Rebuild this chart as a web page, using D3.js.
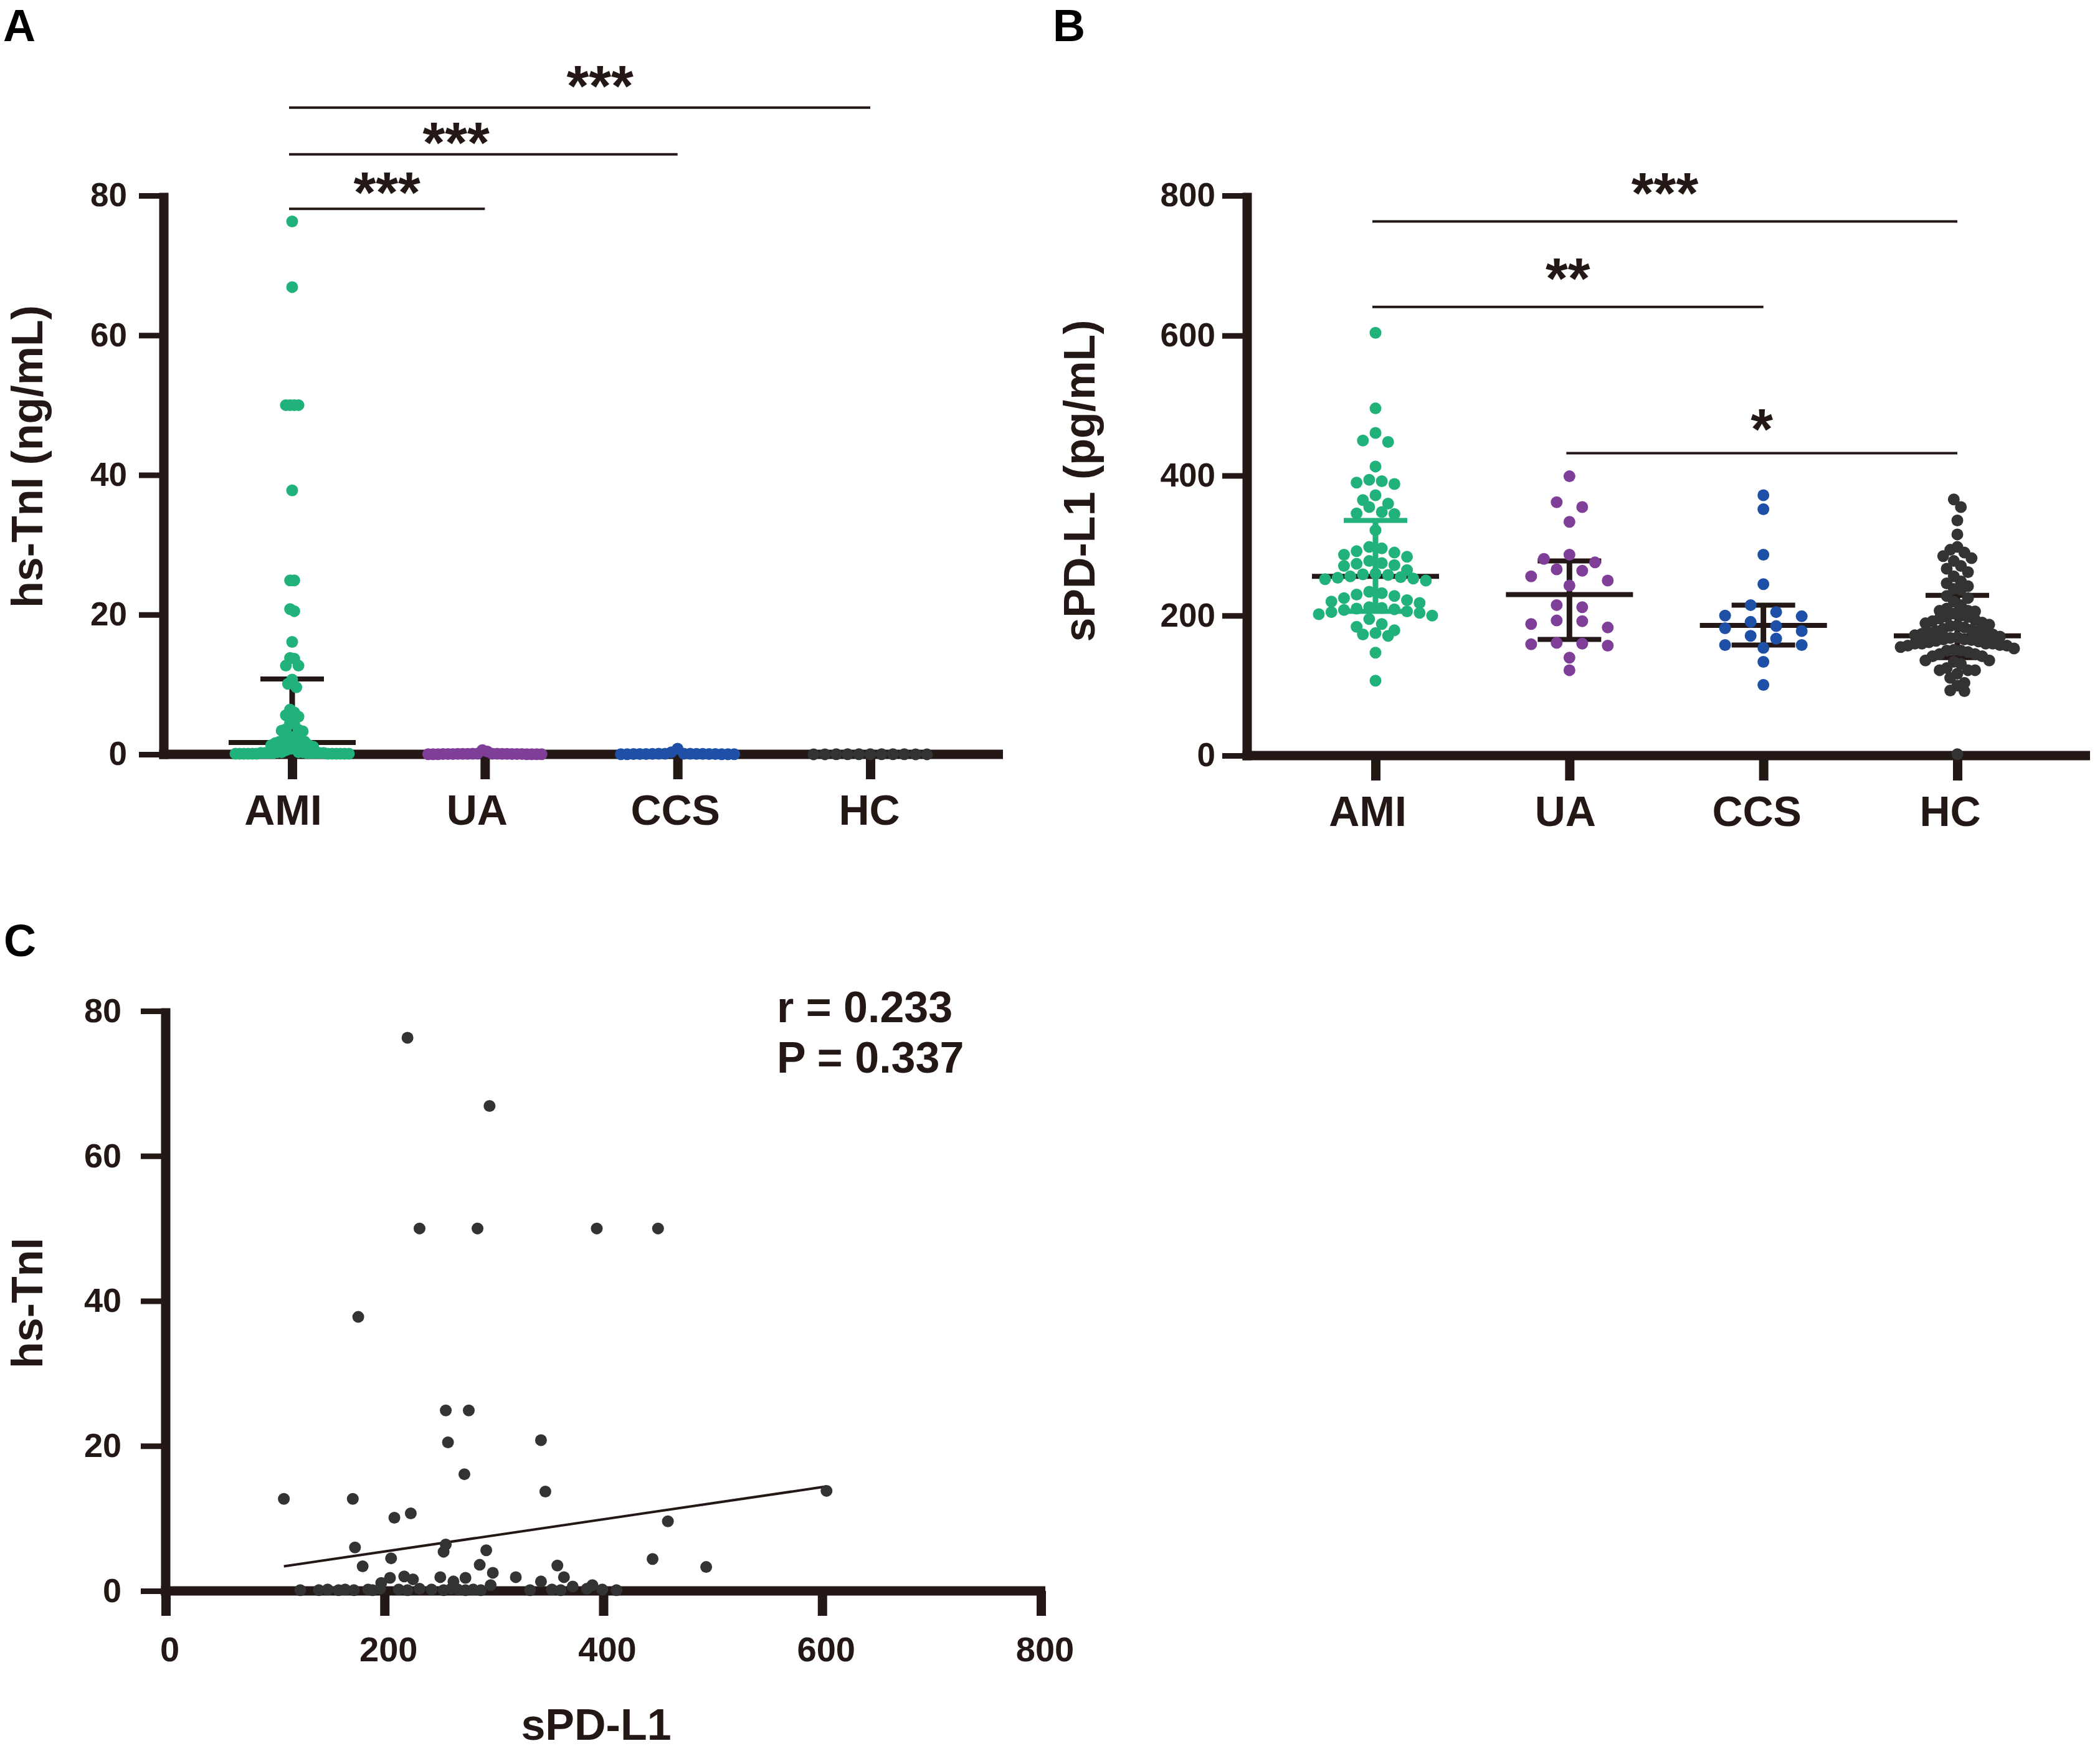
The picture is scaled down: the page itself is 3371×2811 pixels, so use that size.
<!DOCTYPE html>
<html>
<head>
<meta charset="utf-8">
<script src="https://cdnjs.cloudflare.com/ajax/libs/d3/7.8.5/d3.min.js"></script>
<style>
  body { margin: 0; background: #fff; }
</style>
</head>
<body>
<div id="chart"></div>
<script>
// ---- data ----
const groups = ['AMI', 'UA', 'CCS', 'HC'];
const groupColors = ['#20b27a', '#7f3f98', '#1d50a6', '#333333'];

// AMI patients: hs-TnI (panel A and C) paired with sPD-L1 (panel C x)
const amiTni = [76.3, 66.9, 50, 50, 50, 50, 37.8, 24.9, 24.9, 20.5, 20.8, 16.1, 13.8,
  12.7, 12.7, 13.7, 10.1, 10.7, 9.6, 6.0, 6.4, 5.4, 5.6, 4.5, 4.4, 3.4, 3.6, 3.5, 3.3,
  2.5, 1.9, 1.9, 1.3, 1.8, 2.0, 1.6, 1.9, 1.3, 1.8, 0.8, 1.1, 0.6, 0.8,
  0.1, 0.1, 0.2, 0.1, 0.2, 0.1, 0.2, 0.1, 0.3, 0.2, 0.1, 0.3, 0.2, 0.1, 0.3, 0.2, 0.1,
  0.2, 0.1, 0.1, 0.2, 0.1, 0.3, 0.2, 0.1];
const corrSpd = [221, 296, 232, 285, 394, 450, 176, 256, 277, 258, 343, 273, 604,
  108, 171, 347, 209, 224, 459, 173, 256, 254, 293, 206, 445, 180, 287, 358, 494,
  299, 320, 364, 343, 205, 218, 226, 251, 263, 274, 297, 197, 372, 390,
  123, 140, 148, 158, 164, 172, 185, 189, 196, 213, 221, 232, 243, 254, 261, 267, 274,
  281, 288, 333, 353, 361, 385, 399, 412];
const uaTni = [0.6, 0.4, 0.1, 0.05, 0.08, 0.03, 0.06, 0.02, 0.04, 0.07, 0.05, 0.03,
  0.09, 0.02, 0.06, 0.04, 0.08, 0.03, 0.05, 0.07, 0.02, 0.04, 0.06, 0.03];
const ccsTni = [0.8, 0.3, 0.1, 0.05, 0.08, 0.03, 0.06, 0.02, 0.04, 0.07, 0.05, 0.03,
  0.09, 0.02, 0.06, 0.04, 0.08, 0.03, 0.05];
const hcTni = [0.02, 0.01, 0.03, 0.02, 0.01, 0.02, 0.03, 0.01, 0.02, 0.01, 0.02];

// sPD-L1 per group (panel B)
const amiSpd = [604, 496, 461, 448, 450, 413, 392, 390, 388, 394, 372, 360, 355, 365,
  346, 345, 348, 322, 298, 296, 292, 284, 290, 287, 271, 275, 274, 278, 272, 265,
  250, 252, 256, 258, 255, 253, 259, 260, 254, 234, 230, 225, 228, 220, 232, 218, 222,
  210, 206, 212, 204, 208, 202, 211, 200, 209, 205, 195, 188, 184, 179, 173, 175, 171,
  147, 107];
const uaSpd = [399, 362, 355, 334, 287, 281, 276, 266, 264, 256, 250, 243, 215, 212,
  193, 192, 188, 183, 160, 159, 157, 161, 140, 122];
const ccsSpd = [372, 352, 287, 245, 215, 205, 199, 200, 191, 185, 182, 178, 171, 167,
  158, 158, 154, 134, 101];
const hcSpd = [366, 355, 336, 316, 298, 294, 290, 285, 282, 278, 271, 267, 262, 256,
  249, 246, 242, 238, 237, 228, 225, 206, 207, 207, 198, 196, 194, 198, 189, 181, 175,
  173, 178, 178, 160, 160, 160, 166, 157, 163, 166, 169, 157, 160, 150, 142, 145, 136,
  131, 134, 142, 136, 145, 151, 122, 117, 122, 111, 122, 125, 100, 93, 104, 92,
  165, 168, 170, 172, 174, 176, 180, 183, 185, 187, 190, 192, 200, 203, 210, 215, 220,
  150, 153, 148, 155, 158, 162, 164, 186, 2];

// median, Q1, Q3
const tniSummary = [[1.7, 0.1, 10.8], [0.05, 0.02, 0.08], [0.05, 0.03, 0.08], [0.02, 0.01, 0.02]];
const spdSummary = [[256, 206, 336], [230, 166, 278], [186, 158, 215], [171, 140, 229]];

const tniTicks = [0, 20, 40, 60, 80];
const spdTicks = [0, 200, 400, 600, 800];

// [from, to, label, bracket height in data units]
const tniSig = [['AMI', 'UA', '***', 78.1], ['AMI', 'CCS', '***', 85.9], ['AMI', 'HC', '***', 92.6]];
const spdSig = [['AMI', 'HC', '***', 763], ['AMI', 'CCS', '**', 641], ['UA', 'HC', '*', 432]];

// fitted line in panel C: [intercept, slope]
const fitCoef = [1.0, 0.0222];
const corrText = ['r = 0.233', 'P = 0.337'];

// ---- drawing ----
const ink = '#231815';
const W = 3371, H = 2811;
const R = 9.5;

const svg = d3.select('#chart').append('svg')
  .attr('width', W).attr('height', H)
  .style('font-family', '"Liberation Sans", Arial, Helvetica, sans-serif')
  .style('font-weight', 'bold');

// rows of points spread sideways, like a prism scatter dot plot
function gridSwarm(values, y, maxHalf, rowH, maxStep) {
  const order = d3.range(values.length).sort((a, b) => y(values[a]) - y(values[b]));
  const rows = [];
  let row = null;
  order.forEach(i => {
    const py = y(values[i]);
    if (!row || py - row.top >= rowH) {
      row = { top: py, items: [] };
      rows.push(row);
    }
    row.items.push(i);
  });
  const nMax = d3.max(rows, r => r.items.length);
  const step = nMax > 1 ? Math.min(maxStep, 2 * maxHalf / (nMax - 1)) : 0;
  const dx = new Array(values.length).fill(0);
  rows.forEach(r => {
    const n = r.items.length;
    const slots = d3.range(n).map(k => (k - (n - 1) / 2) * step)
      .sort((a, b) => Math.abs(a) - Math.abs(b) || a - b);
    r.items.forEach((i, k) => { dx[i] = slots[k]; });
  });
  return dx;
}

function styleAxis(sel, tickW, fontSize) {
  sel.attr('font-family', null).attr('font-size', null);
  sel.select('.domain').remove();
  sel.selectAll('.tick line').attr('stroke', ink).attr('stroke-width', tickW);
  sel.selectAll('.tick text').attr('fill', ink).style('font-size', fontSize + 'px');
}

function axisLines(g, ax, y0, y1, xEnd) {
  g.append('line')
    .attr('x1', ax).attr('x2', ax).attr('y1', y1 - 4.5).attr('y2', y0 + 7.5)
    .attr('stroke', ink).attr('stroke-width', 15);
  g.append('line')
    .attr('x1', ax - 7.5).attr('x2', xEnd).attr('y1', y0).attr('y2', y0)
    .attr('stroke', ink).attr('stroke-width', 15);
}

function hline(g, x1, x2, y, w, c) {
  g.append('line').attr('x1', x1).attr('x2', x2).attr('y1', y).attr('y2', y)
    .attr('stroke', c).attr('stroke-width', w);
}

function vTitle(text, x, y) {
  svg.append('text')
    .attr('transform', `translate(${x},${y}) rotate(-90)`)
    .attr('text-anchor', 'middle')
    .attr('fill', ink)
    .style('font-size', '70px')
    .text(text);
}

function letter(t, x, y) {
  svg.append('text').attr('x', x).attr('y', y).attr('fill', '#000')
    .style('font-size', '72px').text(t);
}

function dotPanel(p) {
  const g = svg.append('g');
  const y = d3.scaleLinear().domain([0, p.max]).range([p.y0, p.y1]);
  const x = d3.scalePoint().domain(groups).range(p.xr);

  const yAxis = g.append('g').attr('transform', `translate(${p.ax},0)`)
    .call(d3.axisLeft(y).tickValues(p.ticks).tickSize(40).tickPadding(p.pad));
  styleAxis(yAxis, 9, 53);

  const xAxis = g.append('g').attr('transform', `translate(0,${p.y0})`)
    .call(d3.axisBottom(x).tickSize(40).tickPadding(0));
  styleAxis(xAxis, 15, 68);
  xAxis.selectAll('.tick text')
    .attr('dy', null).attr('y', 113)
    .attr('x', (d, i) => p.labelShift[i]);

  axisLines(g, p.ax, p.y0, p.y1, p.xEnd);

  // significance brackets
  p.sig.forEach(([a, b, label, level], k) => {
    const ly = y(level);
    const x1 = x(a) - 5, x2 = x(b);
    hline(g, x1, x2, ly, 4, ink);
    const [frac, gap] = p.sigLabel[k];
    g.append('text')
      .attr('x', x1 + (x2 - x1) * frac)
      .attr('y', ly - gap + 51)
      .attr('text-anchor', 'middle')
      .attr('fill', ink)
      .style('font-size', '92px')
      .text(label);
  });

  // median with interquartile range
  p.summary.forEach(([med, q1, q3], i) => {
    const cx = x(groups[i]);
    const c = p.barColors[i];
    g.append('line').attr('x1', cx).attr('x2', cx).attr('y1', y(q1)).attr('y2', y(q3))
      .attr('stroke', c).attr('stroke-width', 9);
    hline(g, cx - 51, cx + 51, y(q1), 8, c);
    hline(g, cx - 51, cx + 51, y(q3), 8, c);
    hline(g, cx - 102, cx + 102, y(med), 8, ink);
  });

  // points
  p.values.forEach((vals, i) => {
    const dx = gridSwarm(vals, y, 91, 19, 41);
    g.append('g').selectAll('circle').data(vals).join('circle')
      .attr('cx', (d, k) => x(groups[i]) + dx[k])
      .attr('cy', d => y(d))
      .attr('r', R)
      .attr('fill', groupColors[i]);
  });
}

// panel A
dotPanel({
  ax: 263, y0: 1211, y1: 314, max: 80, xr: [469, 1397], xEnd: 1610, pad: 19,
  ticks: tniTicks, sig: tniSig,
  sigLabel: [[0.5, 45], [0.43, 38], [0.535, 54]],
  labelShift: [-15, -13, -4, -2],
  summary: tniSummary, barColors: [ink, ink, ink, ink],
  values: [amiTni, uaTni, ccsTni, hcTni]
});
vTitle('hs-TnI (ng/mL)', 68, 733);
letter('A', 5, 66);

// panel B
dotPanel({
  ax: 2002, y0: 1213, y1: 314, max: 800, xr: [2208, 3142], xEnd: 3355, pad: 11,
  ticks: spdTicks, sig: spdSig,
  sigLabel: [[0.5, 65], [0.5, 65], [0.5, 58]],
  labelShift: [-13, -7, -11, -12],
  summary: spdSummary, barColors: [groupColors[0], ink, ink, ink],
  values: [amiSpd, uaSpd, ccsSpd, hcSpd]
});
vTitle('sPD-L1 (pg/mL)', 1757, 772);
letter('B', 1690, 66);

// panel C: correlation
(function () {
  const g = svg.append('g');
  const x = d3.scaleLinear().domain([0, 800]).range([266, 1671]);
  const y = d3.scaleLinear().domain([0, 80]).range([2554, 1623]);

  const yAxis = g.append('g').attr('transform', 'translate(266,0)')
    .call(d3.axisLeft(y).tickValues(tniTicks).tickSize(40).tickPadding(31));
  styleAxis(yAxis, 9, 54);

  const xAxis = g.append('g').attr('transform', 'translate(0,2554)')
    .call(d3.axisBottom(x).tickValues(spdTicks).tickSize(40).tickPadding(0));
  styleAxis(xAxis, 15, 56);
  xAxis.selectAll('.tick text').attr('dy', null).attr('y', 113).attr('x', 6);

  axisLines(g, 266, 2554, 1623, 1678);

  const [x0, x1] = d3.extent(corrSpd);
  const fit = d3.line().x(d => x(d)).y(d => y(fitCoef[0] + fitCoef[1] * d));
  g.append('path').attr('d', fit([x0, x1]))
    .attr('fill', 'none').attr('stroke', ink).attr('stroke-width', 4);

  g.append('g').selectAll('circle').data(corrSpd).join('circle')
    .attr('cx', d => x(d))
    .attr('cy', (d, i) => y(amiTni[i]))
    .attr('r', R)
    .attr('fill', '#333333');

  g.selectAll('.corr').data(corrText).join('text')
    .attr('class', 'corr')
    .attr('x', 1247)
    .attr('y', (d, i) => 1641 + i * 81)
    .attr('fill', ink)
    .style('font-size', '70px')
    .text(d => d);

  g.append('text')
    .attr('x', 957).attr('y', 2793)
    .attr('text-anchor', 'middle')
    .attr('fill', ink)
    .style('font-size', '70px')
    .text('sPD-L1');
})();
vTitle('hs-TnI', 68, 2092);
letter('C', 6, 1535);
</script>
</body>
</html>
